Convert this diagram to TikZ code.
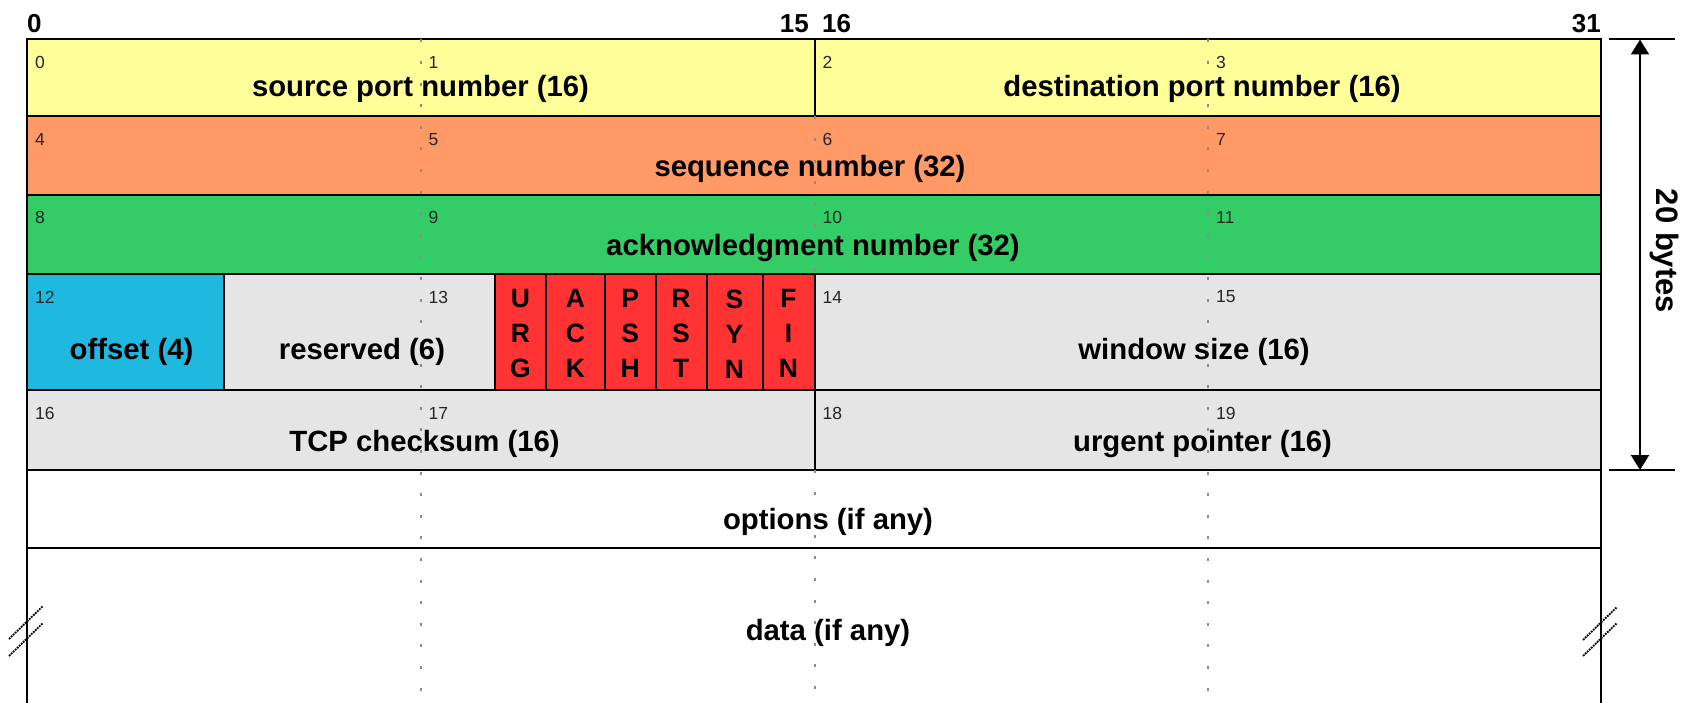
\documentclass[tikz,border=0pt]{standalone}
\usepackage{fontspec}
\setmainfont{Liberation Sans}
\usetikzlibrary{arrows.meta}
\definecolor{cyel}{RGB}{255,255,153}
\definecolor{corg}{RGB}{255,153,102}
\definecolor{cgrn}{RGB}{51,204,102}
\definecolor{cblu}{RGB}{31,184,222}
\definecolor{cgry}{RGB}{229,229,229}
\definecolor{cred}{RGB}{255,51,51}
\definecolor{cdot}{RGB}{140,140,140}
\begin{document}
\begin{tikzpicture}[x=1pt,y=-1pt,
  cell/.style={draw=black, line width=2pt, rectangle, inner sep=0pt, outer sep=0pt},
  lbl/.style={font=\fontsize{29.3}{34}\selectfont\bfseries, inner sep=0pt},
  num/.style={font=\fontsize{17.5}{20}\selectfont, inner sep=0pt, anchor=west, text=black!85},
  head/.style={font=\fontsize{26}{30}\selectfont\bfseries, inner sep=0pt},
  flagtxt/.style={font=\fontsize{26.5}{35}\selectfont\bfseries, inner sep=0pt, align=center},
  quarter/.style={draw=cdot, line width=2pt, dash pattern=on 3pt off 18.6pt},
  brk/.style={line width=1.8pt, densely dotted},
  dim/.style={line width=2pt}
]
\useasboundingbox (0,0) rectangle (1688,703);

% bit numbers above the header
\node[head, anchor=west] (h0) at (27,23.5) {0};
\node[head, anchor=east] (h15) at (809,23.5) {15};
\node[head, anchor=west] (h16) at (822,23.5) {16};
\node[head, anchor=east] (h31) at (1601,23.5) {31};

% row 1: ports
\node[cell, fill=cyel, minimum width=787.6pt, minimum height=77pt] (src) at (420.7,78) {};
\node[cell, fill=cyel, minimum width=786pt, minimum height=77pt] (dst) at (1207.5,78) {};
% row 2: sequence number
\node[cell, fill=corg, minimum width=1573.6pt, minimum height=78.5pt] (seq) at (813.7,155.75) {};
% row 3: acknowledgment number
\node[cell, fill=cgrn, minimum width=1573.6pt, minimum height=78.5pt] (ack) at (813.7,234.25) {};
% row 4: offset, reserved, flags, window
\node[cell, fill=cblu, minimum width=196.6pt, minimum height=116.5pt] (off) at (125.2,331.75) {};
\node[cell, fill=cgry, minimum width=271.5pt, minimum height=116.5pt] (res) at (359.25,331.75) {};
\node[cell, fill=cgry, minimum width=786pt, minimum height=116.5pt] (win) at (1207.5,331.75) {};
% row 5: checksum, urgent pointer
\node[cell, fill=cgry, minimum width=787.6pt, minimum height=80pt] (chk) at (420.7,430) {};
\node[cell, fill=cgry, minimum width=786pt, minimum height=80pt] (urg) at (1207.5,430) {};
% row 6: options
\node[cell, fill=white, minimum width=1573.6pt, minimum height=78pt] (opt) at (813.7,509) {};
% row 7: data, open at the bottom
\node[inner sep=0pt, outer sep=0pt, minimum width=1573.6pt, minimum height=155pt] (data) at (813.7,625.5) {};

% 32-bit word quarter guides
\draw[quarter] (420.5,39.5) -- (420.5,703);
\draw[quarter] (1208,39.5) -- (1208,703);
\draw[quarter] (814.5,116.5) -- (814.5,273.5);
\draw[quarter] (814.5,470) -- (814.5,703);

% flag bits
\node[cell, fill=cred, minimum width=51pt, minimum height=116.5pt] (furg) at (520.5,331.75) {};
\node[cell, fill=cred, minimum width=59pt, minimum height=116.5pt] (fack) at (575.5,331.75) {};
\node[cell, fill=cred, minimum width=50.5pt, minimum height=116.5pt] (fpsh) at (630.25,331.75) {};
\node[cell, fill=cred, minimum width=51pt, minimum height=116.5pt] (frst) at (681,331.75) {};
\node[cell, fill=cred, minimum width=56pt, minimum height=116.5pt] (fsyn) at (734.5,331.75) {};
\node[cell, fill=cred, minimum width=52pt, minimum height=116.5pt] (ffin) at (788.5,331.75) {};
\node[flagtxt] (turg) at ([yshift=-2pt]furg.center) {U\\R\\G};
\node[flagtxt] (tack) at ([yshift=-2pt]fack.center) {A\\C\\K};
\node[flagtxt] (tpsh) at ([yshift=-2pt]fpsh.center) {P\\S\\H};
\node[flagtxt] (trst) at ([yshift=-2pt]frst.center) {R\\S\\T};
\node[flagtxt] (tsyn) at ([yshift=-2pt]fsyn.center) {S\\Y\\N};
\node[flagtxt] (tfin) at ([yshift=-2pt]ffin.center) {F\\I\\N};

% sides of the open data area
\draw[dim] (data.north west) -- (data.south west);
\draw[dim] (data.north east) -- (data.south east);

% byte offsets
\node[num] (n0) at (35,62) {0};
\node[num] (n1) at (428.5,62) {1};
\node[num] (n2) at (822.5,62) {2};
\node[num] (n3) at (1216,62) {3};
\node[num] (n4) at (35,139.5) {4};
\node[num] (n5) at (428.5,139.5) {5};
\node[num] (n6) at (822.5,139.5) {6};
\node[num] (n7) at (1216,139.5) {7};
\node[num] (n8) at (35,217.5) {8};
\node[num] (n9) at (428.5,217.5) {9};
\node[num] (n10) at (822.5,217.5) {10};
\node[num] (n11) at (1216,217.5) {11};
\node[num] (n12) at (35,297) {12};
\node[num] (n13) at (428.5,297) {13};
\node[num] (n14) at (822.5,297) {14};
\node[num] (n15) at (1216,297) {15};
\node[num] (n16) at (35,413) {16};
\node[num] (n17) at (428.5,413) {17};
\node[num] (n18) at (822.5,413) {18};
\node[num] (n19) at (1216,413) {19};

% field names
\node[lbl] (lsrc) at (420.5,89) {source port number (16)};
\node[lbl] (ldst) at (1202,89) {destination port number (16)};
\node[lbl] (lseq) at (810,169) {sequence number (32)};
\node[lbl] (lack) at (813,247.5) {acknowledgment number (32)};
\node[lbl] (loff) at (131.5,352) {offset (4)};
\node[lbl] (lres) at (362,352) {reserved (6)};
\node[lbl] (lwin) at (1194,352) {window size (16)};
\node[lbl] (lchk) at (424.5,443.5) {TCP checksum (16)};
\node[lbl] (lurg) at (1202.5,443.5) {urgent pointer (16)};
\node[lbl] (lopt) at (828,521.5) {options (if any)};
\node[lbl] (ldata) at (828,633) {data (if any)};

% header length dimension
\coordinate (ta) at (1609,39.5);
\coordinate (tb) at (1675,39.5);
\coordinate (ba) at (1609,470);
\coordinate (bb) at (1675,470);
\coordinate (dtop) at (1640,39.5);
\coordinate (dbot) at (1640,470);
\draw[dim] (ta) -- (tb);
\draw[dim] (ba) -- (bb);
\draw[dim, {Triangle[width=18pt,length=15pt]}-{Triangle[width=18pt,length=15pt]}] (dtop) -- (dbot);
\node[lbl, font=\fontsize{31}{36}\selectfont\bfseries, rotate=-90] (bytes) at (1664,251) {20 bytes};

% break marks on the data area
\coordinate (la1) at (9,639);  \coordinate (lb1) at (43,606);
\coordinate (la2) at (9,656);  \coordinate (lb2) at (43,623);
\coordinate (ra1) at (1583,640); \coordinate (rb1) at (1617,607);
\coordinate (ra2) at (1583,656); \coordinate (rb2) at (1617,623);
\draw[brk] (la1) -- (lb1);
\draw[brk] (la2) -- (lb2);
\draw[brk] (ra1) -- (rb1);
\draw[brk] (ra2) -- (rb2);
\end{tikzpicture}
\end{document}
